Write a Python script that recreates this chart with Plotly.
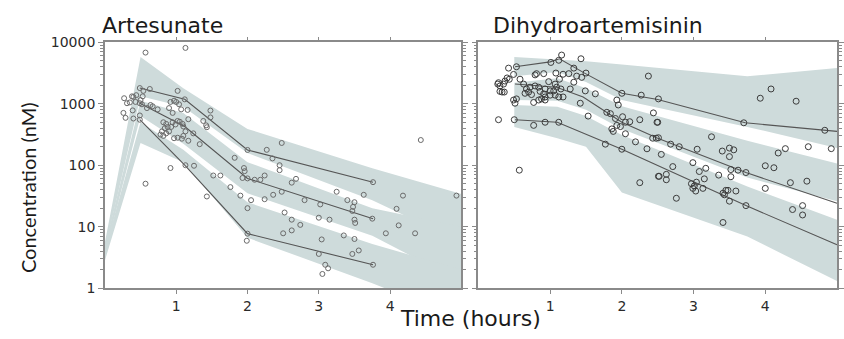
import plotly.graph_objects as go

# ---------------- data ----------------
# Artesunate: prediction-interval bands (nM)
ART_BAND_T = [0, 0.5, 1.1, 2.0, 3.75, 5.0]
ART_P95_HI = [5.5, 5750, 1780, 390, 89, 34]
ART_P95_LO = [4.2, 1320, 890, 158, 27, 5.6]
ART_P50_HI = [4.8, 1120, 710, 112, 20, 10]
ART_P50_LO = [3.6, 630, 224, 35, 7.1, 1.26]
ART_P05_HI = [4.2, 500, 178, 25, 5.2, 2.0]
ART_P05_LO = [2.8, 230, 112, 6.6, 1.2, 0.32]

# Artesunate: observed percentiles
ART_LINE_T = [0.49, 1.12, 2.0, 3.76]
ART_OBS95 = [1800, 1180, 177, 53]
ART_OBS50 = [1020, 427, 61, 13.5]
ART_OBS05 = [550, 100, 7.7, 2.4]

# Artesunate: observations
ART_OBS_T = [0.57, 1.13, 1.02, 0.63, 0.49, 0.27, 0.31, 0.35, 0.38, 0.40, 0.44, 0.43, 0.50, 0.53,
             0.52, 0.26, 0.29, 0.39, 0.40, 0.49, 0.59, 0.64, 0.67, 0.74, 0.54, 0.92, 0.97, 1.00,
             1.04, 1.07, 0.90, 0.95, 0.82, 0.86, 0.88, 0.84, 0.80, 0.86, 0.90, 0.93, 0.95, 0.99,
             1.02, 1.05, 1.09, 1.13, 1.10, 1.02, 0.97, 1.08, 0.82, 0.78, 1.17, 1.17, 1.24, 1.33,
             1.16, 1.48, 1.48, 1.38, 1.42, 1.43, 0.92, 1.25, 0.57, 1.43, 1.52, 1.62, 1.82, 1.95,
             1.96, 1.93, 1.76, 1.90, 2.05, 2.00, 1.99, 2.24, 2.27, 2.35, 2.48, 2.45, 2.24, 2.10,
             2.18, 2.36, 2.48, 2.52, 2.50, 2.45, 2.62, 2.68, 2.62, 2.74, 2.62, 2.80, 3.02, 3.25,
             3.40, 3.50, 3.48, 3.47, 3.63, 3.00, 3.15, 3.50, 3.51, 3.35, 3.50, 3.04, 3.00, 3.56,
             3.47, 3.09, 3.13, 3.05, 4.18, 4.09, 4.12, 3.94, 4.35, 4.43, 4.93, 1.12, 2.00, 3.76,
             2.00, 3.75, 1.13, 2.00, 3.76, 1.10, 0.49, 0.49]
ART_OBS_C = [6800, 8100, 1620, 1740, 1800, 1230, 1020, 1050, 1320, 1290, 1380, 1070, 1150, 1320,
             980, 710, 590, 780, 575, 645, 850, 955, 910, 810, 1620, 1070, 1120, 1070,
             980, 810, 850, 710, 500, 470, 420, 400, 355, 330, 355, 420, 500, 460,
             525, 510, 470, 355, 300, 280, 275, 270, 300, 315, 560, 250, 330, 220,
             795, 775, 600, 525, 445, 415, 90, 98, 50, 31, 68, 68, 132, 90,
             80, 62, 44, 32, 27, 20, 5.9, 28, 178, 129, 230, 100, 68, 58,
             58, 33, 37, 17, 7.8, 83, 52, 60, 13, 10.7, 8.7, 27, 23, 37,
             27, 25, 21, 18, 33, 14, 13, 13, 11.5, 7.2, 6.3, 6.2, 3.6, 4.1,
             3.6, 2.4, 2.1, 1.7, 32, 19.5, 10.5, 7.8, 7.8, 257, 32, 1180, 177, 53,
             61, 13.5, 100, 7.7, 2.4, 427, 1020, 550]

# Dihydroartemisinin: prediction-interval bands (nM)
DHA_BAND_T = [0.5, 1.1, 1.5, 2.0, 3.75, 5.0]
DHA_P95_HI = [5750, 5250, 4900, 4350, 2800, 3800]
DHA_P95_LO = [2800, 3300, 2250, 1150, 420, 190]
DHA_P50_HI = [2200, 2600, 1780, 910, 250, 107]
DHA_P50_LO = [1150, 1120, 800, 390, 63, 26]
DHA_P05_HI = [950, 890, 630, 310, 45, 13]
DHA_P05_LO = [420, 275, 200, 36, 6.9, 1.3]

# Dihydroartemisinin: observed percentiles
DHA_T95 = [0.51, 1.0, 1.13, 1.48, 2.0, 2.5, 3.72, 5.0]
DHA_OBS95 = [4000, 4800, 5400, 3150, 1480, 1170, 490, 355]
DHA_T50 = [0.51, 1.09, 1.46, 2.0, 2.5, 3.73, 5.0]
DHA_OBS50 = [2100, 1860, 1290, 500, 275, 76, 24]
DHA_T05 = [0.51, 1.1, 2.0, 3.73, 5.0]
DHA_OBS05 = [550, 500, 182, 22, 5.1]

# Dihydroartemisinin: observations
DHA_OBS_T = [1.16, 1.43, 1.12, 1.01, 0.42, 0.53, 0.49, 0.40, 0.35, 0.28, 0.37, 0.43, 0.30, 0.33,
             0.36, 0.30, 0.27, 0.79, 0.81, 0.91, 1.08, 1.18, 1.26, 1.33, 1.37, 1.44, 1.50, 1.33,
             0.98, 1.07, 1.13, 0.58, 0.63, 0.67, 0.72, 0.65, 0.70, 0.74, 0.79, 0.84, 0.86, 0.91,
             0.93, 1.00, 1.05, 1.07, 0.88, 0.93, 1.00, 1.09, 1.15, 1.12, 1.18, 1.28, 0.49, 0.51,
             0.53, 0.77, 0.84, 0.93, 0.28, 0.50, 0.77, 0.93, 1.12, 1.42, 1.49, 1.63, 1.53, 1.77,
             1.79, 1.84, 1.93, 1.95, 1.91, 2.01, 2.05, 2.11, 1.93, 1.88, 1.86, 1.98, 2.05, 2.19,
             2.25, 2.35, 2.25, 2.37, 2.51, 2.44, 2.49, 2.51, 2.51, 0.57, 2.00, 2.00, 2.27, 2.50,
             2.48, 2.68, 2.80, 2.55, 3.05, 3.25, 3.40, 3.50, 3.56, 3.50, 2.71, 2.52, 2.62, 2.62,
             2.99, 3.08, 3.17, 3.15, 3.35, 3.52, 3.62, 3.52, 2.97, 3.01, 2.99, 3.03, 3.13, 3.45,
             3.48, 3.41, 3.50, 3.59, 2.76, 3.41, 3.93, 4.08, 4.43, 4.18, 4.28, 4.60, 4.92, 4.00,
             4.12, 4.35, 4.58, 4.00, 4.38, 4.52, 4.52, 3.70, 4.83, 3.73, 3.73, 2.43, 3.04, 3.43]
DHA_OBS_C = [6200, 5400, 5100, 4700, 3800, 4000, 3000, 2630, 2090, 2200, 2340, 2500, 1950, 1550,
             1550, 1590, 2090, 2950, 3090, 3090, 3160, 3020, 3090, 3800, 2820, 2690, 3160, 2240,
             2290, 2090, 2510, 2510, 2090, 1740, 1860, 1480, 1550, 1410, 1950, 1860, 1590, 1450,
             1740, 1620, 1620, 1380, 1200, 1290, 1380, 1860, 1740, 1290, 1290, 1740, 1150, 1020,
             1200, 1050, 1150, 1150, 550, 550, 445, 500, 500, 1020, 1620, 1450, 630, 220,
             725, 690, 1150, 955, 575, 615, 500, 510, 445, 355, 390, 425, 325, 240,
             550, 185, 52, 2820, 1200, 710, 500, 280, 66, 83, 1480, 182, 1380, 500,
             275, 220, 200, 150, 182, 290, 170, 190, 178, 138, 95, 66, 71, 58,
             110, 79, 89, 60, 69, 85, 83, 65, 50, 46, 42, 38, 42, 39,
             39, 35, 26, 38, 29, 11.7, 1230, 1740, 1100, 158, 186, 200, 186, 98,
             91, 52, 55, 42, 19, 22, 15.5, 490, 370, 76, 22, 275, 53, 33]

TITLES = ["Artesunate", "Dihydroartemisinin"]
X_TICKS = [1, 2, 3, 4]
Y_TICKS = [1, 10, 100, 1000, 10000]
Y_TICK_TEXT = ["1", "10", "100", "1000", "10000"]

# ---------------- styling ----------------
BAND_COLOR = "#cedbdb"
LINE_COLOR = "#555555"
AXIS_COLOR = "#8a8a8a"
TICK_FONT = dict(family="DejaVu Sans", size=14, color="#2a2a2a")

fig = go.Figure()


def add_band(t, hi, lo, xa, ya):
    fig.add_trace(go.Scatter(
        x=list(t) + list(t)[::-1], y=list(hi) + list(lo)[::-1],
        fill="toself", fillcolor=BAND_COLOR, line=dict(width=0),
        mode="lines", hoverinfo="skip", showlegend=False, xaxis=xa, yaxis=ya))


def add_line(t, v, xa, ya):
    fig.add_trace(go.Scatter(x=t, y=v, mode="lines",
                             line=dict(color=LINE_COLOR, width=1.1),
                             showlegend=False, xaxis=xa, yaxis=ya))


def add_obs(t, c, xa, ya, color, size):
    fig.add_trace(go.Scatter(x=t, y=c, mode="markers",
                             marker=dict(symbol="circle-open", size=size, color=color,
                                         line=dict(width=1, color=color)),
                             showlegend=False, xaxis=xa, yaxis=ya))


for hi, lo in [(ART_P95_HI, ART_P95_LO), (ART_P50_HI, ART_P50_LO), (ART_P05_HI, ART_P05_LO)]:
    add_band(ART_BAND_T, hi, lo, "x", "y")
for v in [ART_OBS95, ART_OBS50, ART_OBS05]:
    add_line(ART_LINE_T, v, "x", "y")
add_obs(ART_OBS_T, ART_OBS_C, "x", "y", "#6a6a6a", 5)

for hi, lo in [(DHA_P95_HI, DHA_P95_LO), (DHA_P50_HI, DHA_P50_LO), (DHA_P05_HI, DHA_P05_LO)]:
    add_band(DHA_BAND_T, hi, lo, "x2", "y2")
add_line(DHA_T95, DHA_OBS95, "x2", "y2")
add_line(DHA_T50, DHA_OBS50, "x2", "y2")
add_line(DHA_T05, DHA_OBS05, "x2", "y2")
add_obs(DHA_OBS_T, DHA_OBS_C, "x2", "y2", "#3c3c3c", 6)

W, H = 844, 339
y_dom = [(H - 294) / H, (H - 36) / H]
minor_vals = [m * 10 ** e for e in range(0, 4) for m in range(2, 10)]

xcommon = dict(range=[0, 5], tickvals=X_TICKS, ticks="outside", ticklen=4, tickwidth=1,
               tickcolor=AXIS_COLOR, showline=True, linecolor=AXIS_COLOR, linewidth=1.5,
               mirror="allticks", showgrid=False, zeroline=False, tickfont=TICK_FONT)
ycommon = dict(type="log", range=[0, 4], tickvals=Y_TICKS, ticktext=Y_TICK_TEXT,
               ticks="outside", ticklen=5, tickwidth=1, tickcolor=AXIS_COLOR,
               showline=True, linecolor=AXIS_COLOR, linewidth=1.5, mirror="allticks",
               showgrid=False, zeroline=False, tickfont=TICK_FONT,
               minor=dict(tickvals=minor_vals, ticks="outside", ticklen=3,
                          tickcolor=AXIS_COLOR, showgrid=False))

fig.update_layout(
    width=W, height=H,
    margin=dict(l=0, r=0, t=0, b=0),
    paper_bgcolor="white", plot_bgcolor="white",
    xaxis=dict(domain=[105 / W, 462 / W], anchor="y", **xcommon),
    yaxis=dict(domain=y_dom, anchor="x", **ycommon),
    xaxis2=dict(domain=[479 / W, 838 / W], anchor="y2", **xcommon),
    yaxis2=dict(domain=y_dom, anchor="x2", showticklabels=False, **ycommon),
    annotations=[
        dict(text=TITLES[0], x=100 / W, y=(H - 18) / H, xref="paper", yref="paper",
             xanchor="left", yanchor="middle", showarrow=False,
             font=dict(family="DejaVu Sans", size=22, color="#1a1a1a")),
        dict(text=TITLES[1], x=492 / W, y=(H - 18) / H, xref="paper", yref="paper",
             xanchor="left", yanchor="middle", showarrow=False,
             font=dict(family="DejaVu Sans", size=22, color="#1a1a1a")),
        dict(text="Time (hours)", x=471 / W, y=(H - 326) / H, xref="paper", yref="paper",
             xanchor="center", yanchor="middle", showarrow=False,
             font=dict(family="DejaVu Sans", size=22, color="#1a1a1a")),
        dict(text="Concentration (nM)", x=28 / W, y=(H - 188) / H, xref="paper", yref="paper",
             xanchor="center", yanchor="middle", showarrow=False, textangle=-90,
             font=dict(family="Lato", size=20, color="#1a1a1a")),
    ],
)

fig.write_html("out.html")
